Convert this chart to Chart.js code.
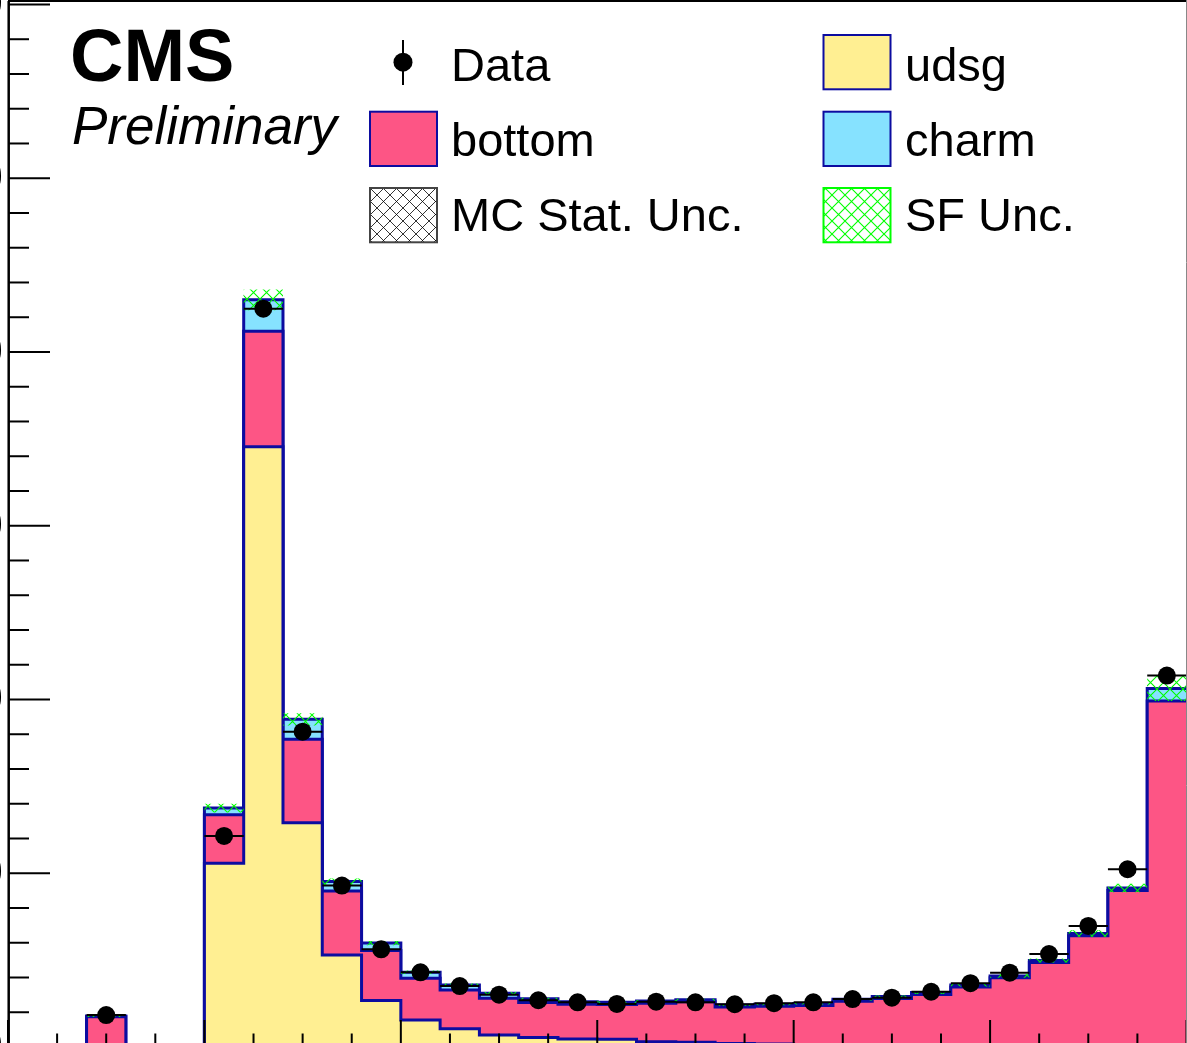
<!DOCTYPE html>
<html>
<head>
<meta charset="utf-8">
<script src="https://cdn.jsdelivr.net/npm/chart.js@4.4.1/dist/chart.umd.min.js"></script>
<style>
  html, body { margin: 0; padding: 0; background: #fff; overflow: hidden; }
  #wrap { position: absolute; left: 0; top: 0; width: 1200px; height: 1060px; }
</style>
</head>
<body>
<div id="wrap"><canvas id="discChart" width="1200" height="1060"></canvas></div>
<script>
// binning of the discriminator (30 bins)
const binEdges = [-0.2, -0.16, -0.12, -0.08, -0.04, 0.0, 0.04, 0.08, 0.12, 0.16,
                  0.2, 0.24, 0.28, 0.32, 0.36, 0.4, 0.44, 0.48, 0.52, 0.56,
                  0.6, 0.64, 0.68, 0.72, 0.76, 0.8, 0.84, 0.88, 0.92, 0.96, 1.0];

// MC components (stacked: udsg, bottom, charm)
const udsg   = [0, 0, 0, 0, 0, 10.58, 34.54, 12.91, 5.30, 2.67,
                1.55, 1.05, 0.69, 0.55, 0.46, 0.45, 0.30, 0.28, 0.20, 0.17,
                0.15, 0.13, 0.11, 0.10, 0.08, 0.07, 0.06, 0.05, 0.04, 0.03];
const bottom = [0, 0, 1.74, 0, 0, 2.78, 6.65, 4.80, 3.68, 2.88,
                2.40, 2.23, 2.11, 2.01, 2.00, 1.99, 2.22, 2.32, 2.10, 2.17,
                2.24, 2.51, 2.68, 2.92, 3.38, 3.91, 4.80, 6.35, 8.96, 19.89];
const charm  = [0, 0, 0.04, 0, 0, 0.39, 1.81, 1.15, 0.54, 0.43,
                0.35, 0.29, 0.29, 0.21, 0.15, 0.13, 0.13, 0.12, 0.12, 0.12,
                0.11, 0.11, 0.11, 0.11, 0.11, 0.11, 0.12, 0.13, 0.15, 0.71];

// observed data (null = empty bin)
const dataVals = [null, null, 1.84, null, null, 12.15, 42.49, 18.15, 9.29, 5.62,
                  4.30, 3.51, 3.01, 2.69, 2.57, 2.48, 2.61, 2.57, 2.46, 2.52,
                  2.57, 2.76, 2.84, 3.18, 3.67, 4.28, 5.35, 6.97, 10.23, 21.38];

// uncertainties on the MC total
const mcStatUnc = [0, 0, 0.03, 0, 0, 0.12, 0.35, 0.20, 0.10, 0.07,
                   0.05, 0.04, 0.04, 0.03, 0.03, 0.03, 0.03, 0.03, 0.03, 0.03,
                   0.03, 0.03, 0.04, 0.04, 0.04, 0.05, 0.06, 0.08, 0.12, 0.30];
const sfUnc     = [0, 0, 0.05, 0, 0, 0.25, 0.60, 0.35, 0.18, 0.12,
                   0.10, 0.08, 0.07, 0.06, 0.06, 0.06, 0.06, 0.06, 0.06, 0.06,
                   0.06, 0.07, 0.07, 0.08, 0.09, 0.10, 0.12, 0.19, 0.24, 0.72];

// axis ticks
const yTickLabels = ['0', '10', '20', '30', '40', '50', '60'];
const yMajorStep = 10, yMinorStep = 2;
const xMajorStep = 0.2, xMinorStep = 0.05;

// colors
const outline = '#0c0ca0';
const udsgColor = '#ffef92';
const bottomColor = '#fd5585';
const charmColor = '#86e2ff';
const sfColor = '#00ff00';
const mcColor = '#000000';

// histogram as step polyline (two points per bin)
function stepPoints(values) {
    const pts = [];
    values.forEach((v, i) => {
        pts.push({ x: binEdges[i], y: v });
        pts.push({ x: binEdges[i + 1], y: v });
    });
    return pts;
}

function hatch(color, width) {
    const s = 13;
    const c = document.createElement('canvas');
    c.width = s; c.height = s;
    const g = c.getContext('2d');
    g.strokeStyle = color;
    g.lineWidth = width;
    g.beginPath();
    g.moveTo(-1, -1); g.lineTo(s + 1, s + 1);
    g.moveTo(-1, s + 1); g.lineTo(s + 1, -1);
    g.stroke();
    return g.createPattern(c, 'repeat');
}

const cumUdsg = udsg.slice();
const cumBottom = udsg.map((v, i) => v + bottom[i]);
const cumCharm = cumBottom.map((v, i) => v + charm[i]);

const mcLow = cumCharm.map((v, i) => v - mcStatUnc[i]);
const mcHigh = cumCharm.map((v, i) => v + mcStatUnc[i]);
const sfLow = cumCharm.map((v, i) => v - sfUnc[i]);
const sfHigh = cumCharm.map((v, i) => v + sfUnc[i]);

const dataPoints = [];
const dataXErr = [];
dataVals.forEach((v, i) => {
    if (v === null) return;
    const lo = binEdges[i], hi = binEdges[i + 1];
    dataPoints.push({ x: (lo + hi) / 2, y: v });
    dataXErr.push({ x: lo, y: v }, { x: hi, y: v }, { x: hi, y: null });
});

const mcHatch = hatch(mcColor, 0.8);
const sfHatch = hatch(sfColor, 1.1);

function stackSet(values, color, fill, order) {
    return {
        type: 'line', data: stepPoints(values), borderColor: outline, borderWidth: 3,
        backgroundColor: color, fill: fill, pointRadius: 0, order: order
    };
}
function bandSet(values, pattern, fill, order) {
    return {
        type: 'line', data: stepPoints(values), borderColor: 'rgba(0,0,0,0)', borderWidth: 0,
        backgroundColor: pattern, fill: fill, pointRadius: 0, order: order
    };
}

const framePlugin = {
    id: 'rootFrame',
    afterDatasetsDraw(chart) {
        const ctx = chart.ctx;
        const a = chart.chartArea;
        const xs = chart.scales.x, ys = chart.scales.y;
        ctx.save();
        ctx.strokeStyle = '#000';
        ctx.lineWidth = 2;
        // y ticks
        for (let v = 0; v <= 60 + 1e-9; v += yMinorStep) {
            const y = ys.getPixelForValue(v);
            const major = Math.abs(v / yMajorStep - Math.round(v / yMajorStep)) < 1e-6;
            ctx.beginPath();
            ctx.moveTo(a.left, y);
            ctx.lineTo(a.left + (major ? 42 : 21), y);
            ctx.stroke();
        }
        // x ticks
        for (let k = 0; k * xMinorStep <= 1.2 + 1e-9; k++) {
            const v = binEdges[0] + k * xMinorStep;
            const x = xs.getPixelForValue(v);
            const major = k % Math.round(xMajorStep / xMinorStep) === 0;
            ctx.beginPath();
            ctx.moveTo(x, a.bottom);
            ctx.lineTo(x, a.bottom - (major ? 27 : 13.5));
            ctx.stroke();
        }
        // frame
        ctx.lineWidth = 2.5;
        ctx.beginPath();
        ctx.moveTo(a.left + 0.7, a.bottom);
        ctx.lineTo(a.left + 0.7, a.top);
        ctx.stroke();
        ctx.lineWidth = 2;
        ctx.beginPath();
        ctx.moveTo(a.left, a.top);
        ctx.lineTo(a.right, a.top);
        ctx.stroke();
        ctx.strokeStyle = '#888';
        ctx.lineWidth = 1;
        ctx.beginPath();
        ctx.moveTo(a.right, a.top);
        ctx.lineTo(a.right, a.bottom);
        ctx.stroke();
        // y tick labels (mostly cut off at the left edge)
        ctx.fillStyle = '#000';
        ctx.font = '47px "Liberation Sans", Arial, sans-serif';
        ctx.textAlign = 'right';
        ctx.textBaseline = 'middle';
        yTickLabels.forEach((t, i) => {
            ctx.fillText(t, a.left - 5, ys.getPixelForValue(i * yMajorStep) + 1);
        });
        ctx.restore();
    },
    afterDraw(chart) {
        const ctx = chart.ctx;
        ctx.save();
        ctx.fillStyle = '#000';
        ctx.textAlign = 'left';
        ctx.textBaseline = 'alphabetic';
        ctx.font = 'bold 74px "Liberation Sans", Arial, sans-serif';
        ctx.fillText('CMS', 70, 81);
        ctx.font = 'italic 53px "Liberation Sans", Arial, sans-serif';
        ctx.fillText('Preliminary', 72, 144);

        // legend
        const rows = [35, 111.7, 188];
        const baselines = [81, 156, 231];
        const cols = [370, 823.5];
        const textX = [451, 905];
        const bw = 67, bh = 54.3;
        const entries = [
            { label: 'Data', kind: 'data', col: 0, row: 0 },
            { label: 'udsg', kind: 'fill', color: udsgColor, col: 1, row: 0 },
            { label: 'bottom', kind: 'fill', color: bottomColor, col: 0, row: 1 },
            { label: 'charm', kind: 'fill', color: charmColor, col: 1, row: 1 },
            { label: 'MC Stat. Unc.', kind: 'hatch', pattern: mcHatch, line: '#444', col: 0, row: 2 },
            { label: 'SF Unc.', kind: 'hatch', pattern: sfHatch, line: sfColor, col: 1, row: 2 }
        ];
        entries.forEach(e => {
            const x = cols[e.col], y = rows[e.row];
            if (e.kind === 'data') {
                const cx = x + bw / 2 - 0.5, cy = y + bh / 2;
                ctx.strokeStyle = '#000';
                ctx.lineWidth = 2;
                ctx.beginPath();
                ctx.moveTo(cx, 40); ctx.lineTo(cx, 85);
                ctx.stroke();
                ctx.fillStyle = '#000';
                ctx.beginPath();
                ctx.arc(cx, cy, 9.5, 0, Math.PI * 2);
                ctx.fill();
            } else if (e.kind === 'fill') {
                ctx.fillStyle = e.color;
                ctx.fillRect(x, y, bw, bh);
                ctx.strokeStyle = outline;
                ctx.lineWidth = 2;
                ctx.strokeRect(x, y, bw, bh);
            } else {
                ctx.fillStyle = '#fff';
                ctx.fillRect(x, y, bw, bh);
                ctx.fillStyle = e.pattern;
                ctx.fillRect(x, y, bw, bh);
                ctx.strokeStyle = e.line;
                ctx.lineWidth = 2;
                ctx.strokeRect(x, y, bw, bh);
            }
            ctx.fillStyle = '#000';
            ctx.font = '47px "Liberation Sans", Arial, sans-serif';
            ctx.fillText(e.label, textX[e.col], baselines[e.row]);
        });
        ctx.restore();
    }
};

new Chart(document.getElementById('discChart'), {
    type: 'line',
    data: {
        datasets: [
            stackSet(cumUdsg, udsgColor, 'origin', 4),
            stackSet(cumBottom, bottomColor, 0, 5),
            stackSet(cumCharm, charmColor, 1, 6),
            bandSet(mcLow, 'rgba(0,0,0,0)', false, 3),
            bandSet(mcHigh, mcHatch, 3, 3),
            bandSet(sfLow, 'rgba(0,0,0,0)', false, 2),
            bandSet(sfHigh, sfHatch, 5, 2),
            {
                type: 'line', data: dataXErr, borderColor: '#000', borderWidth: 2,
                pointRadius: 0, fill: false, spanGaps: false, order: 1
            },
            {
                type: 'line', data: dataPoints, showLine: false, pointRadius: 9,
                pointHoverRadius: 9, pointBackgroundColor: '#000', pointBorderWidth: 0,
                fill: false, order: 0
            }
        ]
    },
    options: {
        responsive: false,
        animation: false,
        devicePixelRatio: 1,
        events: [],
        layout: { autoPadding: false, padding: { left: 8, top: 1, right: 13.5, bottom: 13 } },
        plugins: { legend: { display: false }, tooltip: { enabled: false } },
        scales: {
            x: { type: 'linear', min: binEdges[0], max: binEdges[binEdges.length - 1], display: false },
            y: { type: 'linear', min: 0, max: 60.2, display: false }
        }
    },
    plugins: [framePlugin]
});
</script>
</body>
</html>
